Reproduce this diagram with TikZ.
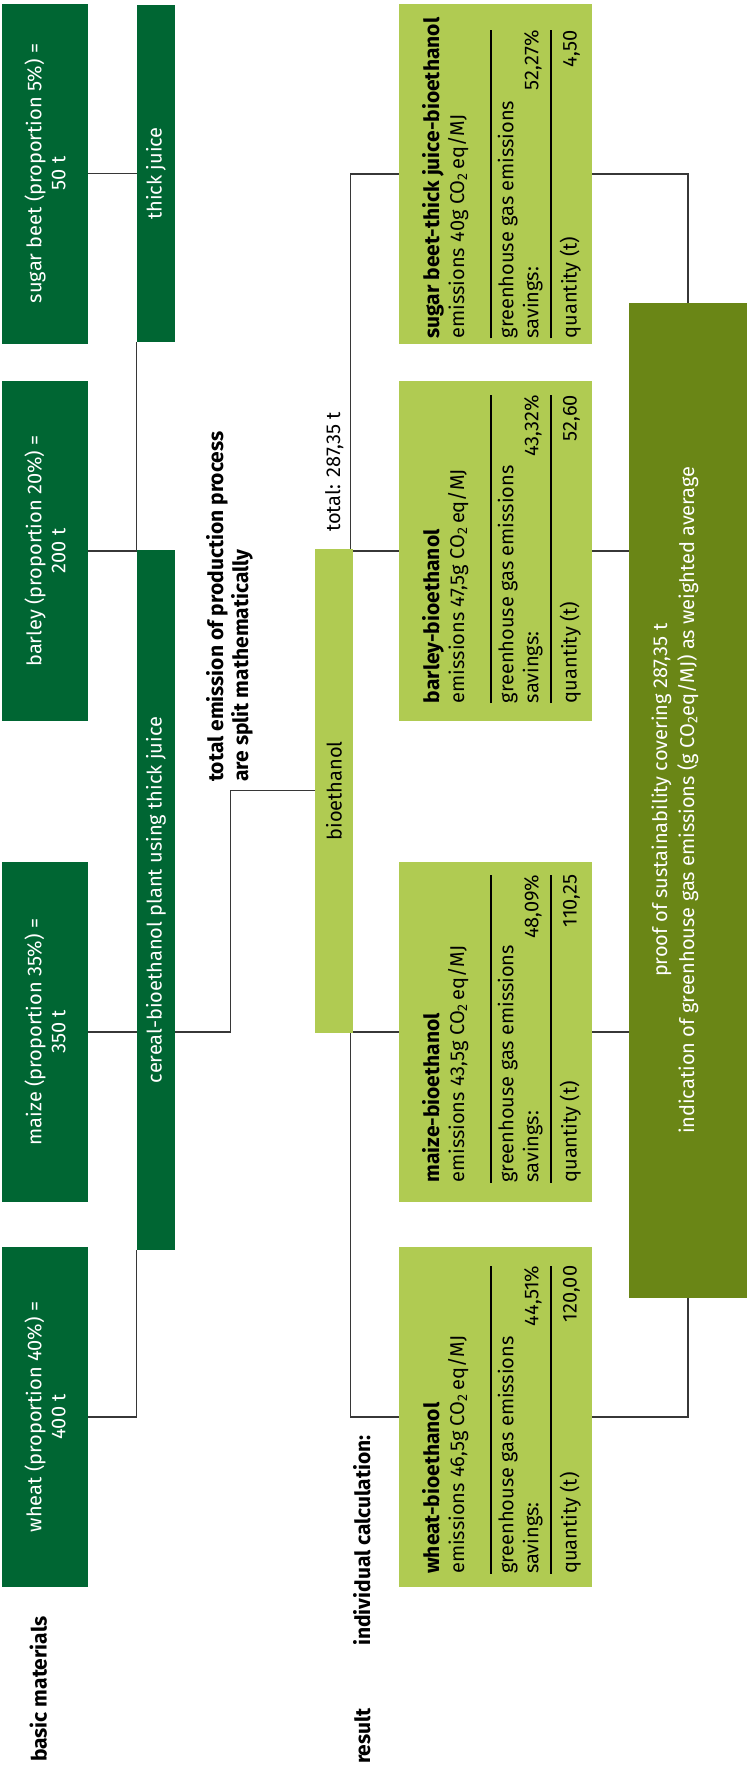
\documentclass[tikz,border=0pt]{standalone}
\usepackage{fontspec}
\setmainfont{Fira Sans}
\usetikzlibrary{calc}

\definecolor{basegreen}{RGB}{0,102,51}
\definecolor{resultgreen}{RGB}{176,203,82}
\definecolor{proofgreen}{RGB}{106,134,22}
\definecolor{linegray}{RGB}{55,55,55}

% calculation sheet printed inside each result box
\newcommand\calcsheet[4]{%
  \begin{minipage}[t]{308pt}%
    \parindent=0pt \baselineskip=25pt \lineskiplimit=-100pt \lineskip=0pt
    \smash{\bfseries\fontsize{21}{25}\selectfont #1}\par
    \smash{emissions #2 CO\textsubscript{2}\,eq/MJ}\par
    \vskip 26.4pt \hrule height 1.2pt \vskip 21.7pt
    \smash{greenhouse gas emissions}\par
    \smash{savings:}\hfill\smash{#3}\par
    \vskip 12.1pt \hrule height 1.2pt \vskip 25.1pt
    \smash{quantity (t)}\hfill\smash{#4}%
  \end{minipage}}

\tikzset{
  basebox/.style={fill=basegreen, text=white, inner sep=0pt,
    minimum width=340, minimum height=86, align=center,
    font=\fontsize{20}{24}\selectfont},
  stagebox/.style={fill=basegreen, text=white, inner sep=0pt,
    minimum height=38, font=\fontsize{20}{24}\selectfont},
  mixbox/.style={fill=resultgreen, inner sep=0pt, minimum height=38,
    font=\fontsize{20}{24}\selectfont},
  resultbox/.style={fill=resultgreen, inner sep=0pt,
    minimum width=340, minimum height=193},
  proofbox/.style={fill=proofgreen, inner sep=0pt},
  prooftext/.style={text=white, inner sep=0pt, align=center,
    font=\fontsize{20}{27}\selectfont},
  heading/.style={font=\bfseries\fontsize{21}{25}\selectfont,
    inner sep=0pt, anchor=base west, align=left},
  plaintext/.style={font=\fontsize{20}{25}\selectfont,
    inner sep=0pt, anchor=base west},
  sheet/.style={inner sep=0pt, anchor=base west,
    font=\fontsize{20}{25}\selectfont},
  conn/.style={draw=linegray, line width=1.2pt},
}

\begin{document}
\begin{tikzpicture}[x=1pt,y=-1pt]
\begin{scope}[shift={(0,1767)},rotate=90,transform shape]
\useasboundingbox (0,0) rectangle (1767,747);

% basic materials
\node[basebox] (sb) at (1593.5,45) {sugar beet (proportion 5\%) =\\50 t};
\node[basebox] (ba) at (1216,45) {barley (proportion 20\%) =\\200 t};
\node[basebox] (ma) at (735,45) {maize (proportion 35\%) =\\350 t};
\node[basebox] (wh) at (350,45) {wheat (proportion 40\%) =\\400 t};

% processing stages
\node[stagebox, minimum width=337] (tj) at (1593.5,156) {thick juice};
\node[stagebox, minimum width=700] (ce) at (867,156) {cereal-bioethanol plant using thick juice};
\node[mixbox, minimum width=483.5] (bi) at (976.25,334) {bioethanol};

% individual results
\node[resultbox] (sr) at (1593,495.5) {};
\node[resultbox] (br) at (1216,495.5) {};
\node[resultbox] (mr) at (735,495.5) {};
\node[resultbox] (wr) at (350,495.5) {};

\node[sheet] (srt) at (1428.5,439) {\calcsheet{sugar beet-thick juice-bioethanol}{40g}{52,27\%}{4,50}};
\node[sheet] (brt) at (1063.7,439) {\calcsheet{barley-bioethanol}{47,5g}{43,32\%}{52,60}};
\node[sheet] (mrt) at (584.3,439) {\calcsheet{maize-bioethanol}{43,5g}{48,09\%}{110,25}};
\node[sheet] (wrt) at (193,439) {\calcsheet{wheat-bioethanol}{46,5g}{44,51\%}{120,00}};

% proof of sustainability
\node[proofbox, minimum width=994.5, minimum height=118] (ol) at (966.75,688) {};
\node[prooftext] (oltext) at (966.75,675) {proof of sustainability covering 287,35 t\\indication of greenhouse gas emissions (g CO\textsubscript{2}eq/MJ) as weighted average};

% labels
\node[heading] (lbm) at (5,46.7) {basic materials};
\node[heading] (lic) at (121,370) {individual calculation:};
\node[heading] (lre) at (3,370) {result};
\node[heading] (lte) at (985,248) {total emission of production process\\are split mathematically};
\node[plaintext] (tot) at (1235,340) {total: 287,35 t};

% materials to plants
\draw[conn] (sb.south) -- (sb.south |- tj.north);
\draw[conn] (ba.south) -- (ba.south |- ce.north);
\draw[conn] (ma.south) -- (ma.south |- ce.north);
\draw[conn] (wh.south) |- (ce.north west);
\draw[conn] (tj.north west) -- (ce.north east);

% plant to bioethanol
\draw[conn] (ma.south |- ce.south) -- ++(0,55) -| (bi.north);

% bioethanol split into the individual results
\draw[conn] (sr.north) |- ($(bi.south east)+(0,-3)$);
\draw[conn] (br.north) -- (br.north |- bi.south);
\draw[conn] (mr.north) -- (mr.north |- bi.south);
\draw[conn] (wr.north) |- ($(bi.south west)+(0,-3)$);

% results to proof
\draw[conn] (sr.south) |- (ol.east);
\draw[conn] (wr.south) |- (ol.west);
\draw[conn] (br.south) -- (br.south |- ol.north);
\draw[conn] (mr.south) -- (mr.south |- ol.north);
\end{scope}
\end{tikzpicture}
\end{document}
